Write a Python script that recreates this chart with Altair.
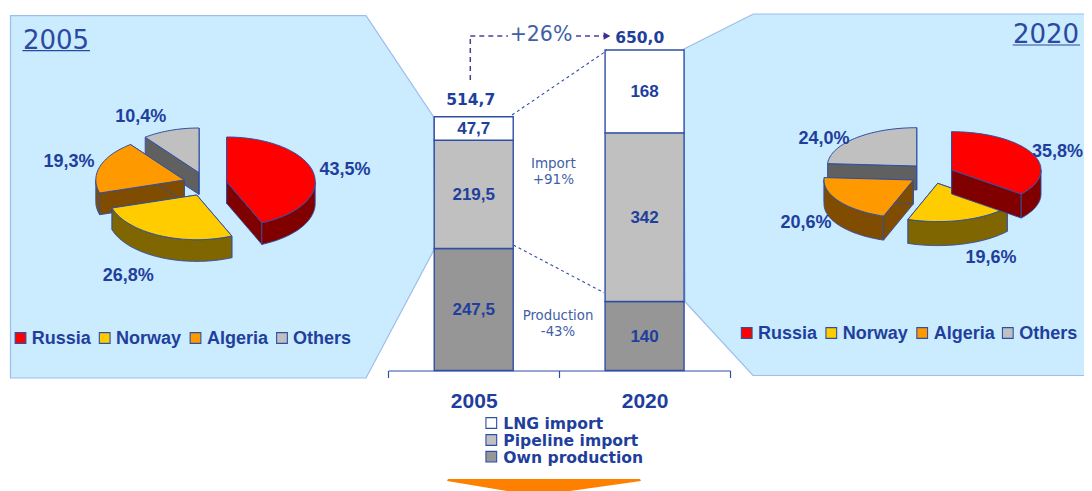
import math
import altair as alt
import pandas as pd

# ---------- data ----------
years = ["2005", "2020"]
bar_series = ["Own production", "Pipeline import", "LNG import"]
own_production = [247.5, 140]
pipeline_import = [219.5, 342]
lng_import = [47.7, 168]
bar_labels = {"Own production": ["247,5", "140"], "Pipeline import": ["219,5", "342"], "LNG import": ["47,7", "168"]}
bar_colors = {"Own production": "#969696", "Pipeline import": "#c0c0c0", "LNG import": "#ffffff"}
total_labels = ["514,7", "650,0"]

suppliers = ["Russia", "Norway", "Algeria", "Others"]
share_2005 = [43.5, 26.8, 19.3, 10.4]
share_2020 = [35.8, 19.6, 20.6, 24.0]
top_colors = ["#ff0000", "#ffcc00", "#ff9900", "#c0c0c0"]
side_colors = ["#800000", "#806600", "#804d00", "#606060"]

# ---------- style / layout (page pixels) ----------
BLUE = "#1f3f9c"
LINE = "#2f4fa5"
SOFT = "#3f5fa8"
PANEL = "#cbebff"
PANEL_EDGE = "#9dbdea"
W, H = 1076, 483
UNIT = 320.5 / 650
BASE = 370.5


def feature(points, fill, stroke="none", sw=0.0):
    return {
        "type": "Feature",
        "properties": {"fill": fill, "stroke": stroke, "sw": sw},
        "geometry": {"type": "Polygon", "coordinates": [[list(p) for p in points] + [list(points[0])]]},
    }


def arc(cx, cy, rx, ry, a0, a1, dy=0.0):
    n = max(2, int(abs(a1 - a0) / 2))
    out = []
    for i in range(n + 1):
        a = math.radians(a0 + (a1 - a0) * i / n)
        out.append((cx + rx * math.sin(a), cy - ry * math.cos(a) + dy))
    return out


def pie(shares, apexes, rx, ry, depth):
    feats = []
    starts = [0.0]
    for s in shares:
        starts.append(starts[-1] + s * 3.6)
    starts[-1] = 360.0
    for i in [3, 2, 1, 0]:
        cx, cy = apexes[i]
        a0, a1 = starts[i], starts[i + 1]
        dk, tp = side_colors[i], top_colors[i]
        for a in (a0, a1):
            e = arc(cx, cy, rx, ry, a, a, 0)[0]
            feats.append(feature([(cx, cy), e, (e[0], e[1] + depth), (cx, cy + depth)], dk, LINE, 0.9))
        c0, c1 = max(a0, 90), min(a1, 270)
        if c1 > c0:
            up = arc(cx, cy, rx, ry, c0, c1)
            dn = arc(cx, cy, rx, ry, c0, c1, depth)
            feats.append(feature(up + dn[::-1], dk, LINE, 0.9))
        feats.append(feature([(cx, cy)] + arc(cx, cy, rx, ry, a0, a1), tp, LINE, 1.0))
    return feats


shapes = [
    feature([(10.5, 15.7), (366, 15.7), (433.5, 116.7), (435, 248), (366, 378), (10.5, 378)], PANEL, PANEL_EDGE, 1.2),
    feature([(683.5, 49.3), (753.3, 14), (1100, 14), (1100, 375.5), (753, 375.5), (685, 301.7)], PANEL, PANEL_EDGE, 1.2),
    feature([(448, 479), (640, 479), (641, 481), (570, 491), (507, 491), (447, 481)], "#ff8000"),
]
shapes += pie(share_2005, [(226.7, 181.7), (196.7, 195), (184.3, 180), (199, 172.7)], 88.5, 44.7, 21.7)
shapes += pie(share_2020, [(951.7, 170), (937.7, 183.3), (913.3, 180), (916.7, 166)], 89.3, 38.3, 24)

geo = alt.Chart(alt.InlineData(values=shapes)).mark_geoshape().encode(
    fill=alt.Color("properties.fill:N", scale=None),
    stroke=alt.Stroke("properties.stroke:N", scale=None),
    strokeWidth=alt.StrokeWidth("properties.sw:Q", scale=None),
).project(type="identity", scale=1, translate=[-8, -8])

# ---------- stacked bars on real scales ----------
rows = []
for j, y in enumerate(years):
    acc = 0.0
    for name, vals in zip(bar_series, [own_production, pipeline_import, lng_import]):
        rows.append({"year": y, "series": name, "low": acc, "high": acc + vals[j], "mid": acc + vals[j] / 2,
                     "label": bar_labels[name][j], "color": bar_colors[name]})
        acc += vals[j]
bars_df = pd.DataFrame(rows)
x_scale = alt.Scale(type="band", domain=years, range=[388.3 - 8, 730 - 8], paddingInner=0, paddingOuter=0)
x_enc = alt.X(
    "year:N",
    sort=years,
    title=None,
    scale=x_scale,
    axis=alt.Axis(
        orient="bottom", offset=BASE - 8 - H, tickBand="extent", labelAngle=0, grid=False,
        domainColor=LINE, tickColor=LINE, domainWidth=1.2, tickWidth=1.2, tickSize=7,
        labelFont="Liberation Sans", labelFontWeight="bold", labelFontSize=21, labelColor=BLUE, labelPadding=13,
    ),
)
y_scale = alt.Scale(domain=[(BASE - (8 + H)) / UNIT, (BASE - 8) / UNIT], zero=False, nice=False)
bars = alt.Chart(bars_df).mark_bar(size=79, stroke=LINE, strokeWidth=1.4).encode(
    x=x_enc,
    y=alt.Y("low:Q", scale=y_scale, axis=None),
    y2="high:Q",
    fill=alt.Color("color:N", scale=None),
)
bar_text = alt.Chart(bars_df).mark_text(font="Liberation Sans", fontWeight="bold", fontSize=17, color=BLUE, dy=1).encode(
    x=alt.X("year:N", sort=years, title=None, scale=x_scale),
    y=alt.Y("mid:Q", scale=y_scale, axis=None),
    text="label:N",
)


# ---------- helpers for annotation layers ----------
def text_layer(items, font, weight="normal", align="center"):
    df = pd.DataFrame(items, columns=["label", "px", "py", "size", "color"])
    df["px"] -= 8
    df["py"] -= 7
    return alt.Chart(df).mark_text(font=font, fontWeight=weight, align=align, baseline="middle").encode(
        x=alt.X("px:Q", scale=None, axis=None),
        y=alt.Y("py:Q", scale=None, axis=None),
        text="label:N",
        size=alt.Size("size:Q", scale=None, legend=None),
        color=alt.Color("color:N", scale=None),
    )


def rule_layer(items, color, dash, width=1.2):
    df = pd.DataFrame(items, columns=["x1", "y1", "x2", "y2"]) - 8
    return alt.Chart(df).mark_rule(color=color, strokeDash=dash, strokeWidth=width).encode(
        x=alt.X("x1:Q", scale=None, axis=None),
        y=alt.Y("y1:Q", scale=None, axis=None),
        x2="x2:Q",
        y2="y2:Q",
    )


def pct(v):
    return f"{v:.1f}".replace(".", ",") + "%"


bold_center = [
    (pct(share_2005[3]), 140.7, 116, 18, BLUE),
    (pct(share_2005[2]), 69, 161, 18, BLUE),
    (pct(share_2005[0]), 345, 169, 18, BLUE),
    (pct(share_2005[1]), 128.3, 275, 18, BLUE),
    (pct(share_2020[3]), 824, 138, 18, BLUE),
    (pct(share_2020[2]), 806, 222, 18, BLUE),
    (pct(share_2020[0]), 1057.5, 151, 18, BLUE),
    (pct(share_2020[1]), 991, 257, 18, BLUE),
]
legend_left_x = [31.7, 116, 207, 293]
legend_right_x = [758, 842.7, 933.7, 1019.3]
bold_left = [(s, x, 338, 18, BLUE) for s, x in zip(suppliers, legend_left_x)]
bold_left += [(s, x, 333, 18, BLUE) for s, x in zip(suppliers, legend_right_x)]
bar_legend = [("LNG import", 503.3, 423, 15.6, BLUE), ("Pipeline import", 503.3, 440, 15.6, BLUE),
              ("Own production", 503.3, 457, 15.6, BLUE)]

normal_center = [
    ("2005", 56, 40, 26, "#2a4aa0"), ("2020", 1046, 34, 26, "#2a4aa0"),
    ("+26%", 541, 34, 20.5, SOFT), ("Import", 553.3, 163.3, 13.5, SOFT), ("+91%", 553.3, 179.3, 13.5, SOFT),
    ("Production", 558, 315.3, 13.3, SOFT), ("-43%", 558, 331, 13.3, SOFT),
]
totals_text = [(total_labels[0], 470.7, 99.3, 15.5, BLUE), (total_labels[1], 639.7, 36.7, 15.5, BLUE)]

sq = []
for xs, yy in [([20.5, 104.7, 195.5, 282], 338), ([746.7, 831.3, 922.2, 1007.8], 333)]:
    for x, c in zip(xs, top_colors):
        sq.append({"px": x - 8, "py": yy - 8, "color": c})
for yy, name in zip([423, 440, 456.7], ["LNG import", "Pipeline import", "Own production"]):
    sq.append({"px": 491.3 - 8, "py": yy - 8, "color": bar_colors[name]})
squares = alt.Chart(pd.DataFrame(sq)).mark_square(size=115, stroke=LINE, strokeWidth=1.1, opacity=1).encode(
    x=alt.X("px:Q", scale=None, axis=None),
    y=alt.Y("py:Q", scale=None, axis=None),
    fill=alt.Color("color:N", scale=None),
)

underlines = rule_layer([(22.5, 50.7, 90, 50.7), (1012.7, 45, 1080, 45)], "#2a4aa0", [1, 0], 1.2)
jump = rule_layer([(470.3, 80, 470.3, 36), (470.3, 36, 508, 36), (576, 36, 606, 36)], "#4a3f9f", [5, 4], 1.5)
links = rule_layer([(512, 115, 606.7, 50.7), (513.3, 245, 604, 292.7)], LINE, [3, 3], 1.1)
head = alt.Chart(pd.DataFrame({"px": [607.0 - 8], "py": [36.0 - 8]})).mark_point(
    shape="triangle-right", size=60, filled=True, color="#3a2f9a", opacity=1
).encode(x=alt.X("px:Q", scale=None, axis=None), y=alt.Y("py:Q", scale=None, axis=None))

chart = alt.layer(
    geo, bars, bar_text, underlines, jump, links, head, squares,
    text_layer(bold_center, "Liberation Sans", "bold"),
    text_layer(bold_left, "Liberation Sans", "bold", "left"),
    text_layer(normal_center, "DejaVu Sans"),
    text_layer(totals_text, "DejaVu Sans", "bold"),
    text_layer(bar_legend, "DejaVu Sans", "bold", "left"),
).properties(
    width=W, height=H, padding=0, autosize=alt.AutoSizeParams(type="none"), background="white"
).configure_view(stroke=None)

chart.save("out.html", embed_options={"renderer": "svg", "actions": False})
